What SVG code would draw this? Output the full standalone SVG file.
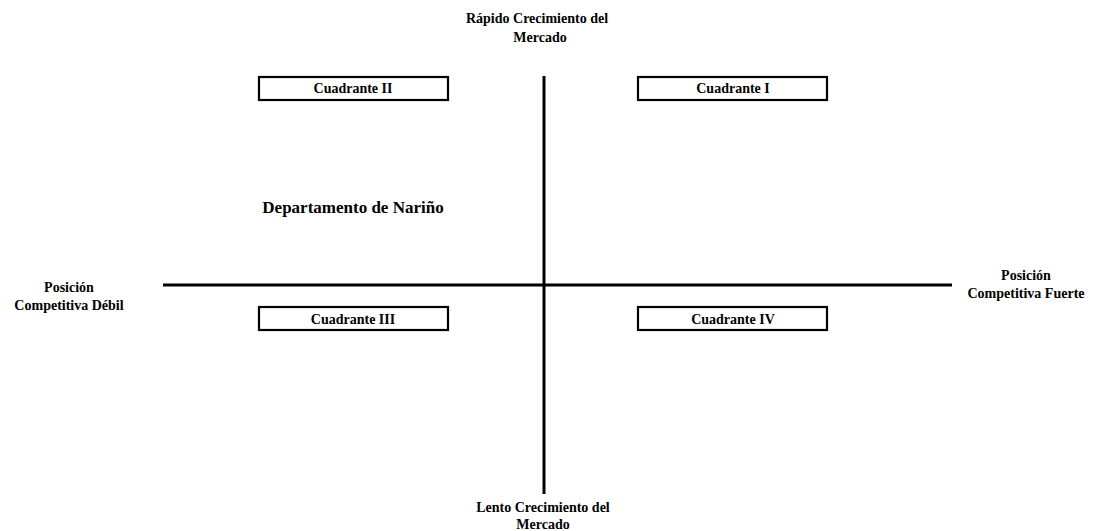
<svg xmlns="http://www.w3.org/2000/svg" width="1095" height="531" viewBox="0 0 1095 531">
  <style>
    .lbl { font-family: "Liberation Serif", "Times New Roman", serif; font-weight: bold; font-size: 14px; fill: #000; text-anchor: middle; }
    .big { font-size: 17px; }
    .box { fill: #fff; stroke: #000; stroke-width: 2.2; }
    .axis { stroke: #000; stroke-width: 3; fill: none; }
  </style>
  <rect width="1095" height="531" fill="#fff"/>

  <g id="connectors">
    <line class="axis" x1="544" y1="76" x2="544" y2="494"/>
    <line class="axis" x1="163" y1="285" x2="952" y2="285"/>
  </g>

  <g id="axis-top">
    <text class="lbl" x="537" y="23">Rápido Crecimiento del</text>
    <text class="lbl" x="540" y="42">Mercado</text>
  </g>
  <g id="axis-bottom">
    <text class="lbl" x="543" y="512">Lento Crecimiento del</text>
    <text class="lbl" x="543" y="529">Mercado</text>
  </g>
  <g id="axis-left">
    <text class="lbl" x="69" y="292">Posición</text>
    <text class="lbl" x="69" y="310">Competitiva Débil</text>
  </g>
  <g id="axis-right">
    <text class="lbl" x="1026" y="280">Posición</text>
    <text class="lbl" x="1026" y="298">Competitiva Fuerte</text>
  </g>

  <g id="q2">
    <rect class="box" x="259" y="77" width="189" height="23"/>
    <text class="lbl" x="353" y="93">Cuadrante II</text>
  </g>
  <g id="q1">
    <rect class="box" x="638" y="77" width="189" height="23"/>
    <text class="lbl" x="733" y="93">Cuadrante I</text>
  </g>
  <g id="q3">
    <rect class="box" x="259" y="307" width="189" height="23"/>
    <text class="lbl" x="353" y="324">Cuadrante III</text>
  </g>
  <g id="q4">
    <rect class="box" x="638" y="307" width="189" height="23"/>
    <text class="lbl" x="733" y="324">Cuadrante IV</text>
  </g>

  <g id="nodo-narino">
    <text class="lbl big" x="353" y="213">Departamento de Nariño</text>
  </g>
</svg>
